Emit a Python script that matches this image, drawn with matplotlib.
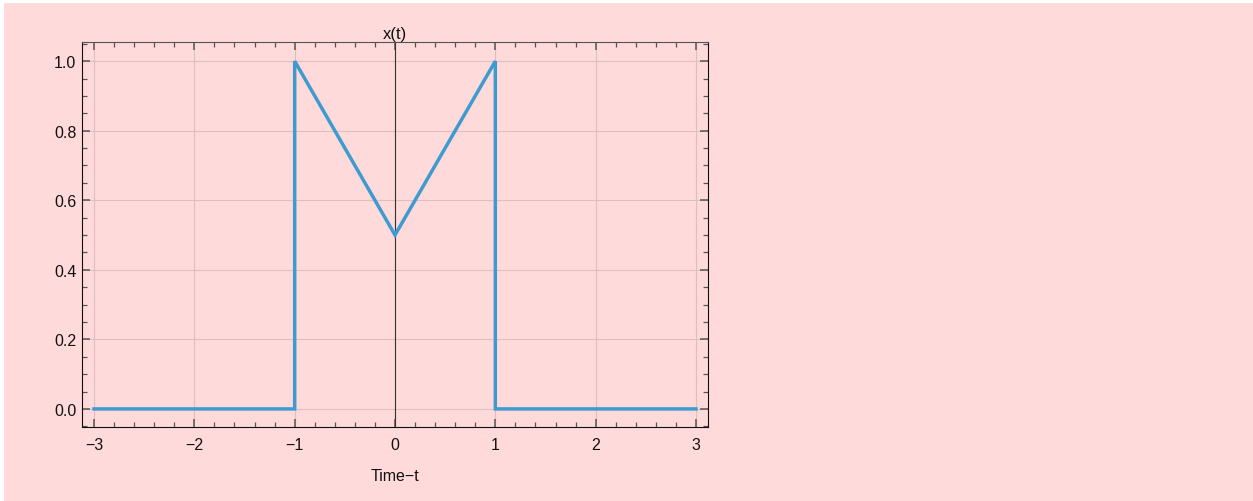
import matplotlib
matplotlib.use("Agg")
import matplotlib.pyplot as plt
from matplotlib.ticker import MultipleLocator
from matplotlib.patches import Rectangle

# piecewise signal x(t)
t = [-3, -1, -1, 0, 1, 1, 3]
x = [0, 0, 1, 0.5, 1, 0, 0]
xticks = [-3, -2, -1, 0, 1, 2, 3]
yticks = [0.0, 0.2, 0.4, 0.6, 0.8, 1.0]

plt.rcParams["font.family"] = ["Liberation Sans", "DejaVu Sans"]
bg = "#ffdada"

fig = plt.figure(figsize=(12.53, 5.02), dpi=100, facecolor="white")
fig.patches.append(Rectangle((4/1253, -0.1), 1.2, 1.1 - 4/502, transform=fig.transFigure,
                             facecolor=bg, edgecolor="none", zorder=-10))
ax = fig.add_axes([82/1253, 1 - 428/502, 626/1253, 385/502])
ax.set_facecolor(bg)

ax.plot(t, x, color="#3e9bd0", lw=2.5, solid_joinstyle="miter", zorder=3)
ax.axvline(0, color="#333333", lw=0.8, zorder=2)

ax.set_xlim(-3.12, 3.12)
ax.set_ylim(-0.052, 1.055)
ax.set_xticks(xticks)
ax.set_xticklabels([f"{v}".replace("-", "\u2212") for v in xticks])
ax.set_yticks(yticks)
ax.set_yticklabels([f"{v:.1f}" for v in yticks])
ax.xaxis.set_minor_locator(MultipleLocator(0.2))
ax.yaxis.set_minor_locator(MultipleLocator(0.05))
ax.tick_params(which="both", direction="in", top=True, right=True, colors="#555555",
               labelcolor="#111111", labelsize=11.5)
ax.tick_params(which="major", length=6, width=1.1)
ax.tick_params(which="minor", length=3.5, width=0.9)
ax.tick_params(axis="x", which="major", pad=7)
ax.tick_params(axis="y", which="major", pad=4)
ax.grid(True, which="major", color="#dcbfbf", lw=0.8)
ax.set_axisbelow(True)
for side in ["left", "bottom", "right"]:
    ax.spines[side].set_color("#111111")
ax.spines["top"].set_color("#555555")

ax.set_title("x(t)", fontsize=12, pad=3, color="#111111")
ax.set_xlabel("Time\u2212t", fontsize=11.5, labelpad=12, color="#111111")

plt.savefig("out.png", dpi=100, facecolor=fig.get_facecolor())
